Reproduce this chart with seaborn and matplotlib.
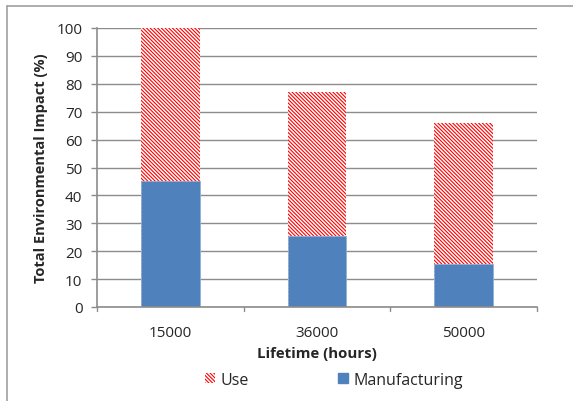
import matplotlib
matplotlib.use("Agg")
import matplotlib.pyplot as plt
import seaborn as sns
import pandas as pd
from matplotlib.patches import Patch
from matplotlib.lines import Line2D

# Lifetime scenarios and impact shares (%)
lifetimes = ["15000", "36000", "50000"]
manufacturing = [45, 25.5, 15.5]
use = [55, 51.5, 50.5]
totals = [m + u for m, u in zip(manufacturing, use)]
yticks = [0, 10, 20, 30, 40, 50, 60, 70, 80, 90, 100]

sns.set_theme(style="white")
plt.rcParams["font.family"] = ["Open Sans", "DejaVu Sans"]
plt.rcParams["hatch.linewidth"] = 0.8
plt.rcParams["hatch.color"] = "#ff0000"

USE_HATCH = "\\" * 9

df = pd.DataFrame({"Lifetime": lifetimes, "Manufacturing": manufacturing,
                   "Use": use, "Total": totals})

fig = plt.figure(figsize=(5.73, 4.02), dpi=100)
ax = fig.add_axes([97 / 573, 1 - 308 / 402, 440 / 573, 279 / 402])

grid_c = "#8c8c8c"
ax.set_axisbelow(True)
ax.yaxis.grid(True, color=grid_c, linewidth=1.0)

# "Use" stacked on top of manufacturing: draw total height hatched, then manufacturing over it
sns.barplot(data=df, x="Lifetime", y="Total", ax=ax, width=0.4,
            color="white", saturation=1)
sns.barplot(data=df, x="Lifetime", y="Manufacturing", ax=ax, width=0.4,
            color="#4f81bd", edgecolor="#8fb0d8", linewidth=0.6, saturation=1)
for p in ax.patches[:len(lifetimes)]:
    p.set_hatch(USE_HATCH)
    p.set_edgecolor("#ff0000")
    p.set_linewidth(0)

ax.set_ylim(0, 100)
ax.set_xlim(-0.5, len(lifetimes) - 0.5)
ax.set_yticks(yticks)
ax.set_yticklabels([str(t) for t in yticks], fontsize=11)
ax.tick_params(axis="y", length=4, color=grid_c, width=1, pad=6.5, left=True)
ax.set_xticks(range(len(lifetimes)))
ax.set_xticklabels(lifetimes, fontsize=11)
ax.tick_params(axis="x", length=0, pad=13)
# boundary ticks between categories on the x axis
for xb in [-0.5, 0.5, 1.5, 2.5]:
    ax.plot([xb, xb], [0, -1.4], color=grid_c, linewidth=1, clip_on=False)

for s in ["top", "right"]:
    ax.spines[s].set_visible(False)
for s in ["left", "bottom"]:
    ax.spines[s].set_color(grid_c)
    ax.spines[s].set_linewidth(1.2)

ax.set_xlabel("Lifetime (hours)", fontsize=10.8, fontweight="bold", labelpad=4)
ax.set_ylabel("Total Environmental Impact (%)", fontsize=10.5, fontweight="bold", labelpad=6)

handles = [Patch(facecolor="white", edgecolor="#ff0000", hatch=USE_HATCH, linewidth=0),
           Patch(facecolor="#4f81bd", edgecolor="#4f81bd")]
leg = fig.legend(handles, ["Use", "Manufacturing"], loc="center",
                 bbox_to_anchor=(334 / 573, 1 - 381 / 402), ncol=2, frameon=False,
                 fontsize=11.5, handlelength=0.6, handleheight=0.6,
                 handletextpad=0.35, columnspacing=5.6, borderpad=0)

# chart frame
fig.add_artist(Line2D([7 / 573, 7 / 573], [0, 1 - 7 / 402], transform=fig.transFigure,
                      color="#a0a0a0", linewidth=1.2))
fig.add_artist(Line2D([7 / 573, 1], [1 - 7 / 402, 1 - 7 / 402], transform=fig.transFigure,
                      color="#a0a0a0", linewidth=1.2))

fig.savefig("out.png", dpi=100, facecolor="white")
